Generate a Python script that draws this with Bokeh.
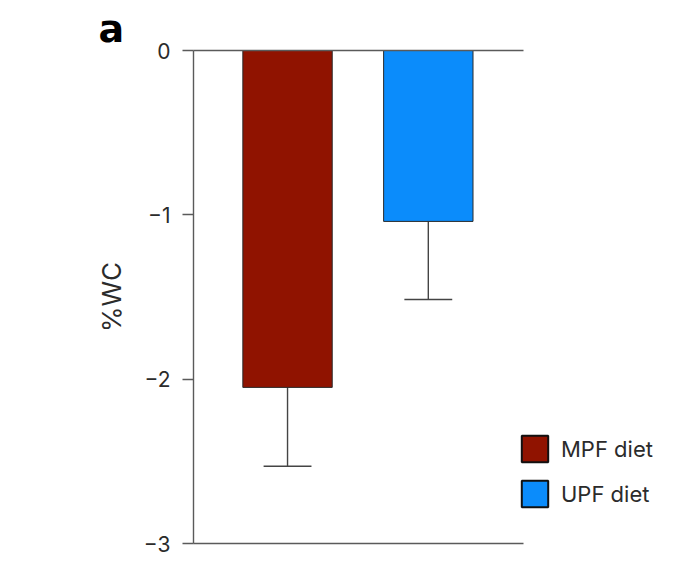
from bokeh.plotting import figure
from bokeh.models import Range1d, FixedTicker, LinearAxis, Legend, LegendItem, Title, ColumnDataSource
from bokeh.embed import file_html
from bokeh.resources import INLINE

categories = ["MPF diet", "UPF diet"]
positions = [1, 2]
means = [-2.05, -1.04]
errors = [0.48, 0.475]
colors = ["#901300", "#0b8cfb"]
y_ticks = [0, -1, -2, -3]
y_tick_labels = ["0", "\u22121", "\u22122", "\u22123"]

FONT = "Inter"
TXT = "#2b2b2b"
AX = "#5a5a5a"

X0, X1 = 0.332, 2.673      # extent of the plotted axes
XR = 3.756                 # right end of frame (room for legend)

p = figure(width=675, height=568, output_backend="svg", toolbar_location=None,
           x_range=Range1d(X0, XR), y_range=Range1d(-3, 0),
           min_border_left=193, min_border_right=0, min_border_top=50, min_border_bottom=25,
           x_axis_location=None, y_axis_location=None, title=None)
p.grid.visible = False
p.outline_line_color = None
p.background_fill_color = "white"

for loc in ("above", "below"):
    ax = LinearAxis(ticker=FixedTicker(ticks=[]), bounds=(X0, X1))
    ax.axis_line_color = AX
    ax.axis_line_width = 1.6
    ax.major_tick_line_color = None
    ax.minor_tick_line_color = None
    ax.major_label_text_font_size = "0px"
    p.add_layout(ax, loc)

p.add_layout(Title(text="a", align="left", offset=-95, standoff=0,
                   text_font="DejaVu Sans", text_font_style="bold", text_font_size="38px",
                   text_color="#000000"), "above")

# y axis
yax = LinearAxis(ticker=FixedTicker(ticks=y_ticks),
                 major_label_overrides={t: l for t, l in zip(y_ticks, y_tick_labels)})
yax.axis_label = "%WC"
yax.axis_label_text_font = FONT
yax.axis_label_text_font_size = "26px"
yax.axis_label_text_font_style = "normal"
yax.axis_label_text_color = TXT
yax.axis_label_standoff = 14
yax.major_label_text_font = FONT
yax.major_label_text_font_size = "21px"
yax.major_label_text_color = TXT
yax.major_label_standoff = 12
yax.major_tick_out = 11
yax.major_tick_in = 0
yax.minor_tick_line_color = None
yax.major_tick_line_color = AX
yax.major_tick_line_width = 1.5
yax.axis_line_color = AX
yax.axis_line_width = 1.4
p.add_layout(yax, "left")

src = ColumnDataSource(dict(x=positions, top=[0, 0], bottom=means, color=colors,
                            err_lo=[m - e for m, e in zip(means, errors)],
                            cap_l=[x - 0.17 for x in positions], cap_r=[x + 0.17 for x in positions]))

p.segment(x0="x", y0="bottom", x1="x", y1="err_lo", source=src, line_color="#444444", line_width=1.4)
p.segment(x0="cap_l", y0="err_lo", x1="cap_r", y1="err_lo", source=src, line_color="#444444", line_width=1.4)
p.vbar(x="x", top="top", bottom="bottom", width=0.635, source=src, fill_color="color",
       line_color="#2a2a2a", line_width=1)

items = []
for cat, col in zip(categories, colors):
    r = p.vbar(x=[float("nan")], top=[float("nan")], bottom=[float("nan")], width=0.5,
               fill_color=col, line_color="#111111", line_width=2)
    items.append(LegendItem(label=cat, renderers=[r]))

legend = Legend(items=items, location=(325, 33), glyph_width=33, glyph_height=33,
                label_height=33, spacing=12, padding=0, margin=0, label_standoff=10,
                label_text_font=FONT, label_text_font_size="22px", label_text_color=TXT,
                border_line_color=None, background_fill_alpha=0)
p.add_layout(legend, "center")

open("out.html", "w").write(file_html(p, INLINE))
